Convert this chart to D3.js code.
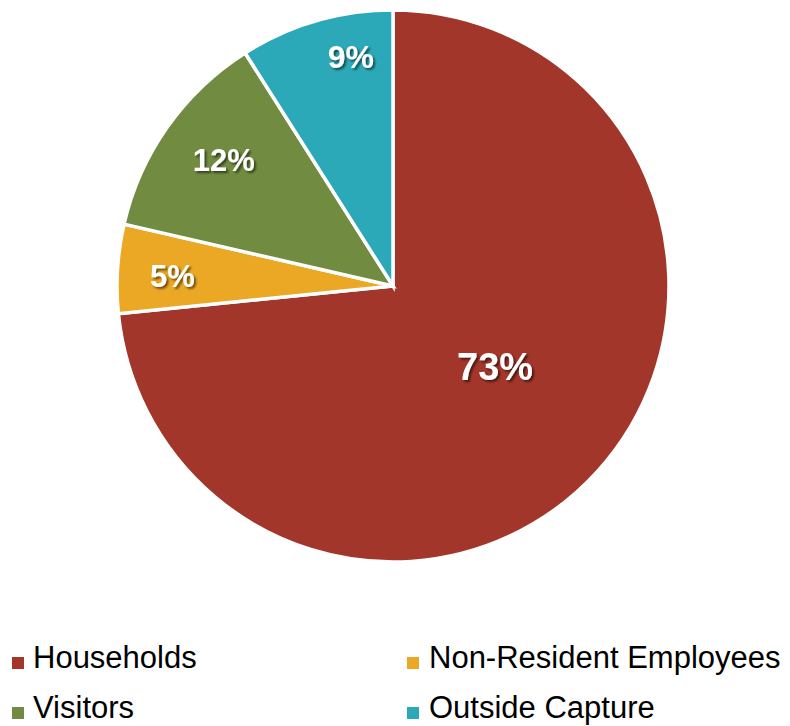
<!DOCTYPE html>
<head>
  <meta charset="utf-8">
  <title>Trade Capture</title>
  <script src="https://d3js.org/d3.v7.min.js"></script>
</head>

<style>
  body {
    margin: 0;
    background: #fff;
    font-family: "Liberation Sans", Arial, sans-serif;
  }

  .slice {
    stroke: #fff;
    stroke-width: 3.5;
  }

  .pct-label {
    fill: #fff;
    font-weight: bold;
    text-anchor: middle;
    filter: url(#shadow);
  }

  .legend-label {
    font-size: 31px;
    fill: #000;
  }
</style>

<body>
  <svg id='svg-chart'></svg>
</body>

<script>

var width = 790,
    height = 726,
    cx = 393,
    cy = 286,
    radius = 276;

// values, clockwise from 12 o'clock
var categories = ['Households', 'Non-Resident Employees', 'Visitors', 'Outside Capture'];
var shares = [73.4, 5.2, 12.4, 9.0];
var pct_labels = ['73%', '5%', '12%', '9%'];

var colours = ['#A3362A', '#EAA824', '#718C40', '#2CA9B8'];

// where each % label sits: fraction of radius, angle nudge (deg), font size
var label_r = [0.47, 0.80, 0.765, 0.845];
var label_shift = [-4, -1, 1.4, 5.8];
var label_size = [38, 31, 31, 32];

var svg = d3.select('#svg-chart')
  .attr('width', width)
  .attr('height', height);

var defs = svg.append('defs');
var f = defs.append('filter').attr('id', 'shadow')
  .attr('x', '-20%').attr('y', '-20%').attr('width', '140%').attr('height', '140%');
f.append('feDropShadow')
  .attr('dx', 2).attr('dy', 2).attr('stdDeviation', 1.2)
  .attr('flood-color', '#000').attr('flood-opacity', 0.55);

var data = categories.map(function(c, i) {
  return {name: c, value: shares[i], label: pct_labels[i], i: i};
});

var pie = d3.pie()
  .sort(null)
  .value(function(d) { return d.value; });

var arc = d3.arc().innerRadius(0).outerRadius(radius);

var g = svg.append('g')
  .attr('transform', 'translate(' + cx + ',' + cy + ')');

var arcs = pie(data);

g.selectAll('path.slice')
  .data(arcs)
  .enter()
  .append('path')
  .attr('class', 'slice')
  .attr('fill', function(d) { return colours[d.data.i]; })
  .attr('d', arc);

g.selectAll('text.pct-label')
  .data(arcs)
  .enter()
  .append('text')
  .attr('class', 'pct-label')
  .attr('transform', function(d) {
    var r = radius * label_r[d.data.i];
    var a = (d.startAngle + d.endAngle) / 2 + label_shift[d.data.i] * Math.PI / 180;
    return 'translate(' + (r * Math.sin(a)) + ',' + (-r * Math.cos(a)) + ')';
  })
  .attr('dy', '0.36em')
  .style('font-size', function(d) { return label_size[d.data.i] + 'px'; })
  .text(function(d) { return d.data.label; });

// legend, two columns
var leg_x = d3.scaleOrdinal().domain([0, 1]).range([12, 407]);
var leg_y = d3.scaleOrdinal().domain([0, 1]).range([668, 718]);

var leg = svg.selectAll('g.legend')
  .data(data)
  .enter()
  .append('g')
  .attr('class', 'legend')
  .attr('transform', function(d) {
    return 'translate(' + leg_x(d.i % 2) + ',' + leg_y(Math.floor(d.i / 2)) + ')';
  });

leg.append('rect')
  .attr('x', 0)
  .attr('y', -11)
  .attr('width', 12)
  .attr('height', 12)
  .attr('fill', function(d) { return colours[d.i]; });

leg.append('text')
  .attr('class', 'legend-label')
  .attr('x', function(d) { return d.i % 2 ? 22 : 21; })
  .attr('y', 0)
  .text(function(d) { return d.name; });

</script>
